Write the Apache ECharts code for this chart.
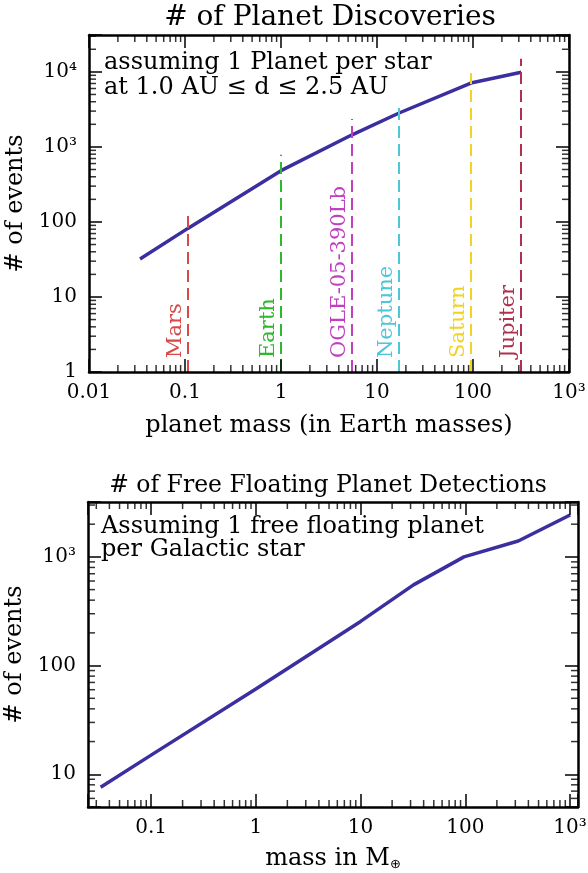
<!DOCTYPE html>
<html>
<head>
<meta charset="utf-8">
<script src="https://cdn.jsdelivr.net/npm/echarts@6/dist/echarts.min.js"></script>
<style>
html, body { margin: 0; padding: 0; background: #fff; }
#main, #ticks { position: absolute; left: 0; top: 0; width: 588px; height: 873px; }
</style>
</head>
<body>
<div id="main"></div>
<div id="ticks"></div>
<script>
// top panel: planet discoveries
var massTop = [0.034, 0.107, 1, 5.5, 17, 95, 318];
var eventsTop = [32, 82, 482, 1450, 2830, 7100, 9900];

var planetNames = ['Mars', 'Earth', 'OGLE-05-390Lb', 'Neptune', 'Saturn', 'Jupiter'];
var planetMass = [0.107, 1, 5.5, 17, 95, 318];
var planetLineTop = [130, 785, 2350, 3850, 9600, 15000];
var planetColors = ['#d84a4a', '#2db82d', '#c040c0', '#4cc6d8', '#f2d420', '#b03050'];

// bottom panel: free floating planets
var massFree = [0.033, 0.1, 1, 10, 32, 97, 320, 1000];
var eventsFree = [7.6, 15, 61, 255, 553, 1000, 1400, 2430];

// tick labels, one per decade starting at the given exponent
var topXLabels = ['0.01', '0.1', '1', '10', '100', '10³'];
var topYLabels = ['1', '10', '100', '10³', '10⁴'];
var freeXLabels = ['0.1', '1', '10', '100', '10³'];
var freeYLabels = ['10', '100', '10³'];

var FONT = 'DejaVu Serif';
var topX = [0.01, 1000], topY = [1, 31000];
var freeX = [0.025, 1190], freeY = [5, 3200];

function grids() {
    return [
        { left: 89, top: 35, right: 19, bottom: 501, outerBoundsMode: 'none', containLabel: false },
        { left: 88, top: 502, right: 10, bottom: 66, outerBoundsMode: 'none', containLabel: false }
    ];
}

function decadeLabel(labels, firstExp) {
    return function (v) {
        var e = Math.log10(v);
        var r = Math.round(e);
        if (Math.abs(e - r) > 1e-6) return '';
        return labels[r - firstExp] || '';
    };
}

// 2..9 x 10^k inside a range, for the small log ticks
function minorValues(range) {
    var out = [];
    for (var e = Math.floor(Math.log10(range[0])); e <= Math.ceil(Math.log10(range[1])); e++) {
        for (var k = 2; k <= 9; k++) {
            var v = k * Math.pow(10, e);
            if (v > range[0] && v < range[1]) out.push(v);
        }
    }
    return out;
}

// same axis config on both layers so both lay out the grid the same way;
// the 'main' layer shows text, the 'ticks' layer shows the box and ticks
function axis(layer, dim, gi, range, pos, labels, firstExp, name, nameGap) {
    var onTicks = layer === 'ticks';
    var txt = onTicks ? 'rgba(0,0,0,0)' : '#000';
    var a = {
        type: 'log',
        gridIndex: gi,
        min: range[0],
        max: range[1],
        position: pos,
        axisLine: { show: onTicks, onZero: false, lineStyle: { color: '#000', width: 2.5 } },
        axisTick: { show: onTicks, inside: true, length: 13, lineStyle: { color: '#000', width: 1.5 } },
        splitLine: { show: false },
        axisLabel: { show: false }
    };
    if (labels) {
        a.axisLabel = {
            show: true,
            formatter: decadeLabel(labels, firstExp),
            margin: dim === 'x' ? 11 : 12,
            fontSize: 20,
            fontFamily: FONT,
            color: txt
        };
    }
    if (name) {
        a.name = name;
        a.nameLocation = 'middle';
        a.nameGap = nameGap;
        a.nameTextStyle = {
            fontSize: 24, fontFamily: FONT, color: txt,
            rich: { sub: { fontSize: 13, fontFamily: 'DejaVu Sans', color: txt, padding: [12, 0, 0, 0] } }
        };
    }
    return a;
}

function axesFor(layer) {
    return {
        xAxis: [
            axis(layer, 'x', 0, topX, 'bottom', topXLabels, -2, 'planet mass (in Earth masses)', 42),
            axis(layer, 'x', 0, topX, 'top'),
            axis(layer, 'x', 1, freeX, 'bottom', freeXLabels, -1, 'mass in M{sub|⊕}', 39),
            axis(layer, 'x', 1, freeX, 'top')
        ],
        yAxis: [
            axis(layer, 'y', 0, topY, 'left', topYLabels, 0, '# of events', 58),
            axis(layer, 'y', 0, topY, 'right'),
            axis(layer, 'y', 1, freeY, 'left', freeYLabels, 1, '# of events', 57),
            axis(layer, 'y', 1, freeY, 'right')
        ]
    };
}

// short inward ticks on one side of a panel, drawn as thin rect symbols
function minorTicks(gi, xr, yr, side) {
    var horiz = side === 'bottom' || side === 'top';
    var vals = minorValues(horiz ? xr : yr);
    var data = vals.map(function (v) {
        if (side === 'bottom') return [v, yr[0]];
        if (side === 'top') return [v, yr[1]];
        if (side === 'left') return [xr[0], v];
        return [xr[1], v];
    });
    var offset = { bottom: [0, -3.5], top: [0, 3.5], left: [3.5, 0], right: [-3.5, 0] }[side];
    return {
        type: 'scatter',
        xAxisIndex: gi * 2,
        yAxisIndex: gi * 2,
        clip: false,
        symbol: 'rect',
        symbolSize: horiz ? [1.5, 7] : [7, 1.5],
        symbolOffset: offset,
        itemStyle: { color: '#000' },
        data: data
    };
}

function zip(xs, ys) {
    return xs.map(function (x, i) { return [x, ys[i]]; });
}

var planetLines = planetNames.map(function (n, i) {
    return [
        {
            name: n,
            coord: [planetMass[i], topY[0]],
            lineStyle: { color: planetColors[i], type: [12, 6], width: 2 },
            label: {
                show: true, formatter: '{b}', position: 'insideStartTop', distance: [14, 2],
                color: planetColors[i], fontSize: 21, fontFamily: FONT
            }
        },
        { coord: [planetMass[i], planetLineTop[i]] }
    ];
});

var mainAxes = axesFor('main');
var chart = echarts.init(document.getElementById('main'));
chart.setOption({
    animation: false,
    title: [
        { text: '# of Planet Discoveries', left: 330, top: 4, textAlign: 'center', padding: 0,
          textStyle: { fontFamily: FONT, fontSize: 28, fontWeight: 'normal', color: '#000' } },
        { text: 'assuming 1 Planet per star\nat 1.0 AU ≤ d ≤ 2.5 AU', left: 104, top: 50, padding: 0,
          textStyle: { fontFamily: FONT, fontSize: 24, lineHeight: 25, fontWeight: 'normal', color: '#000' } },
        { text: '# of Free Floating Planet Detections', left: 328, top: 474, textAlign: 'center', padding: 0,
          textStyle: { fontFamily: FONT, fontSize: 23.5, fontWeight: 'normal', color: '#000' } },
        { text: 'Assuming 1 free floating planet\nper Galactic star', left: 101, top: 515, padding: 0,
          textStyle: { fontFamily: FONT, fontSize: 24, lineHeight: 23, fontWeight: 'normal', color: '#000' } }
    ],
    grid: grids(),
    xAxis: mainAxes.xAxis,
    yAxis: mainAxes.yAxis,
    series: [
        {
            name: 'discoveries',
            type: 'line',
            xAxisIndex: 0,
            yAxisIndex: 0,
            data: zip(massTop, eventsTop),
            symbol: 'none',
            lineStyle: { color: '#3b2f9f', width: 3.5 },
            markLine: {
                symbol: ['none', 'none'],
                silent: true,
                animation: false,
                data: planetLines
            },
            z: 3
        },
        {
            name: 'free floating',
            type: 'line',
            xAxisIndex: 2,
            yAxisIndex: 2,
            data: zip(massFree, eventsFree),
            symbol: 'none',
            lineStyle: { color: '#3b2f9f', width: 3.5 }
        }
    ]
});

// transparent layer on top: box, major and minor ticks
var tickSeries = [];
['bottom', 'top', 'left', 'right'].forEach(function (s) {
    tickSeries.push(minorTicks(0, topX, topY, s));
    tickSeries.push(minorTicks(1, freeX, freeY, s));
});
var tickAxes = axesFor('ticks');
var ticks = echarts.init(document.getElementById('ticks'));
ticks.setOption({
    animation: false,
    backgroundColor: 'transparent',
    grid: grids(),
    xAxis: tickAxes.xAxis,
    yAxis: tickAxes.yAxis,
    series: tickSeries
});
</script>
</body>
</html>
